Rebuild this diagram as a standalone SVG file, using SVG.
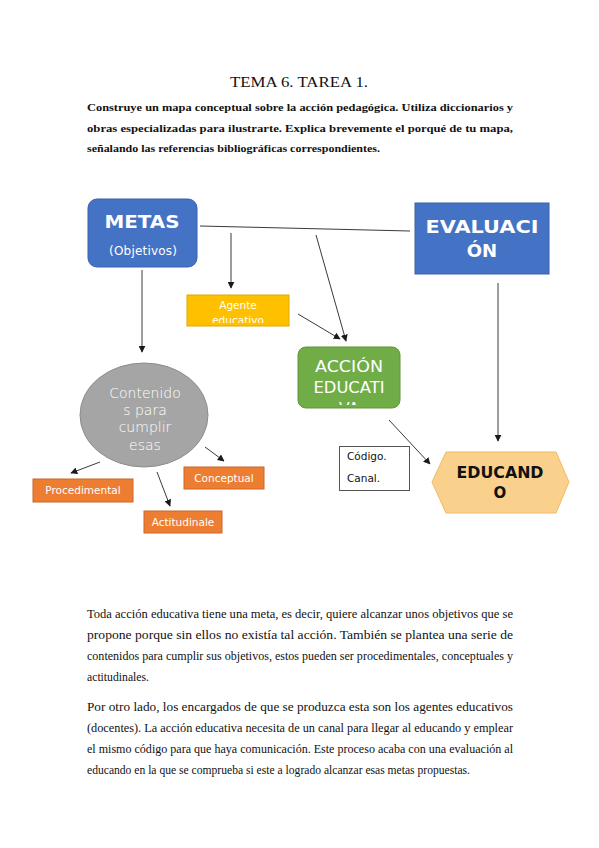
<svg xmlns="http://www.w3.org/2000/svg" width="599" height="848" viewBox="0 0 599 848">
<style>
.serif{font-family:"Liberation Serif","Times New Roman",serif;fill:#111}
.body{font-size:11.5px}
.bold{font-size:11px;font-weight:bold}
.sans{font-family:"DejaVu Sans","Verdana",sans-serif;fill:#fff;text-anchor:middle}
.conn{stroke:#3a3a3a;stroke-width:1;fill:none}
.arr{marker-end:url(#ah)}
.orange{fill:#ED7D31;stroke:#C9672A;stroke-width:1}
</style>
<defs>
<marker id="ah" viewBox="0 0 10 10" refX="9" refY="5" markerWidth="7" markerHeight="7" orient="auto" markerUnits="userSpaceOnUse">
<path d="M0,0 L10,5 L0,10 z" fill="#1a1a1a"/>
</marker>
<clipPath id="clipAgente"><rect x="187" y="295" width="102" height="28"/></clipPath>
<clipPath id="clipAccion"><rect x="298" y="347" width="102" height="58"/></clipPath>
</defs>
<rect width="599" height="848" fill="#fff"/>

<g id="header">
<text class="serif" x="299" y="87" font-size="15.5" text-anchor="middle" textLength="138" lengthAdjust="spacingAndGlyphs">TEMA 6. TAREA 1.</text>
<text class="serif bold" x="87" y="111" textLength="426" lengthAdjust="spacingAndGlyphs">Construye un mapa conceptual sobre la acción pedagógica. Utiliza diccionarios y</text>
<text class="serif bold" x="87" y="132" textLength="426" lengthAdjust="spacingAndGlyphs">obras especializadas para ilustrarte. Explica brevemente el porqué de tu mapa,</text>
<text class="serif bold" x="87" y="152" textLength="293" lengthAdjust="spacingAndGlyphs">señalando las referencias bibliográficas correspondientes.</text>
</g>

<g id="connectors">
<line class="conn" x1="200" y1="226" x2="410" y2="231"/>
<line class="conn arr" x1="231" y1="233" x2="231" y2="288"/>
<line class="conn arr" x1="316" y1="235" x2="346" y2="341"/>
<line class="conn arr" x1="298" y1="314" x2="340" y2="339"/>
<line class="conn arr" x1="142" y1="270" x2="142" y2="352"/>
<line class="conn arr" x1="498" y1="283" x2="498" y2="441"/>
<line class="conn arr" x1="389" y1="420" x2="430" y2="464"/>
<line class="conn arr" x1="100" y1="462" x2="71" y2="473"/>
<line class="conn arr" x1="205" y1="447" x2="224" y2="461"/>
<line class="conn arr" x1="157" y1="472" x2="170" y2="506"/>
</g>

<g id="metas">
<rect x="88" y="199" width="109" height="68" rx="9" fill="#4472C4" stroke="#3A62AC"/>
<text class="sans" x="142" y="228" font-size="18" font-weight="bold" textLength="75" lengthAdjust="spacingAndGlyphs">METAS</text>
<text class="sans" x="143" y="255" font-size="12" textLength="68" lengthAdjust="spacing">(Objetivos)</text>
</g>

<g id="evaluacion">
<rect x="415" y="203" width="134" height="71" fill="#4472C4" stroke="#3A62AC"/>
<text class="sans" x="482" y="233" font-size="18" font-weight="bold" textLength="113" lengthAdjust="spacingAndGlyphs">EVALUACI</text>
<text class="sans" x="482" y="257" font-size="18" font-weight="bold">ÓN</text>
</g>

<g id="agente">
<rect x="187" y="295" width="102" height="31" fill="#FFC000" stroke="#E0A600"/>
<g clip-path="url(#clipAgente)">
<text class="sans" x="238" y="309" font-size="10.5">Agente</text>
<text class="sans" x="238" y="324" font-size="10.5">educativo</text>
</g>
</g>

<g id="accion">
<rect x="298" y="347" width="102" height="61" rx="8" fill="#70AD47" stroke="#5E9639"/>
<g clip-path="url(#clipAccion)">
<text class="sans" x="349" y="372" font-size="15.5" textLength="68" lengthAdjust="spacingAndGlyphs">ACCIÓN</text>
<text class="sans" x="349" y="393" font-size="15.5" textLength="71" lengthAdjust="spacingAndGlyphs">EDUCATI</text>
<text class="sans" x="349" y="414" font-size="15.5">VA</text>
</g>
</g>

<g id="codigo">
<rect x="339.5" y="446.5" width="70" height="44" fill="#fff" stroke="#555"/>
<text x="347" y="460" font-family="DejaVu Sans, Verdana, sans-serif" font-size="10.5" fill="#111">Código.</text>
<text x="347" y="482" font-family="DejaVu Sans, Verdana, sans-serif" font-size="10.5" fill="#111">Canal.</text>
</g>

<g id="educando">
<polygon points="432,482 446,452 556,452 569,482 556,513 446,513" fill="#F9D08C" stroke="#F2BA62"/>
<text x="500" y="478" font-family="DejaVu Sans, Verdana, sans-serif" font-size="15" font-weight="bold" fill="#111" text-anchor="middle" textLength="87" lengthAdjust="spacingAndGlyphs">EDUCAND</text>
<text x="500" y="498" font-family="DejaVu Sans, Verdana, sans-serif" font-size="15" font-weight="bold" fill="#111" text-anchor="middle">O</text>
</g>

<g id="contenidos">
<ellipse cx="144" cy="415" rx="64" ry="52" fill="#A5A5A5" stroke="#8C8C8C"/>
<text class="sans" x="145" y="398" font-size="14" font-weight="300">Contenido</text>
<text class="sans" x="145" y="415" font-size="14" font-weight="300">s para</text>
<text class="sans" x="145" y="432" font-size="14" font-weight="300">cumplir</text>
<text class="sans" x="145" y="450" font-size="14" font-weight="300">esas</text>
</g>

<g id="procedimental">
<rect class="orange" x="33" y="479" width="100" height="23"/>
<text class="sans" x="83" y="494" font-size="10.5">Procedimental</text>
</g>

<g id="conceptual">
<rect class="orange" x="184" y="467" width="80" height="22"/>
<text class="sans" x="224" y="482" font-size="10.5">Conceptual</text>
</g>

<g id="actitudinale">
<rect class="orange" x="144" y="511" width="78" height="22"/>
<text class="sans" x="183" y="526" font-size="10.5">Actitudinale</text>
</g>

<g id="paragraphs">
<text class="serif body" x="87" y="618" textLength="426" lengthAdjust="spacingAndGlyphs">Toda acción educativa tiene una meta, es decir, quiere alcanzar unos objetivos que se</text>
<text class="serif body" x="87" y="639" textLength="426" lengthAdjust="spacingAndGlyphs">propone porque sin ellos no existía tal acción. También se plantea una serie de</text>
<text class="serif body" x="87" y="660" textLength="426" lengthAdjust="spacingAndGlyphs">contenidos para cumplir sus objetivos, estos pueden ser procedimentales, conceptuales y</text>
<text class="serif body" x="87" y="681" textLength="62" lengthAdjust="spacingAndGlyphs">actitudinales.</text>
<text class="serif body" x="87" y="711" textLength="426" lengthAdjust="spacingAndGlyphs">Por otro lado, los encargados de que se produzca esta son los agentes educativos</text>
<text class="serif body" x="87" y="732" textLength="426" lengthAdjust="spacingAndGlyphs">(docentes). La acción educativa necesita de un canal para llegar al educando y emplear</text>
<text class="serif body" x="87" y="753" textLength="426" lengthAdjust="spacingAndGlyphs">el mismo código para que haya comunicación. Este proceso acaba con una evaluación al</text>
<text class="serif body" x="87" y="774" textLength="383" lengthAdjust="spacingAndGlyphs">educando en la que se comprueba si este a logrado alcanzar esas metas propuestas.</text>
</g>
</svg>
